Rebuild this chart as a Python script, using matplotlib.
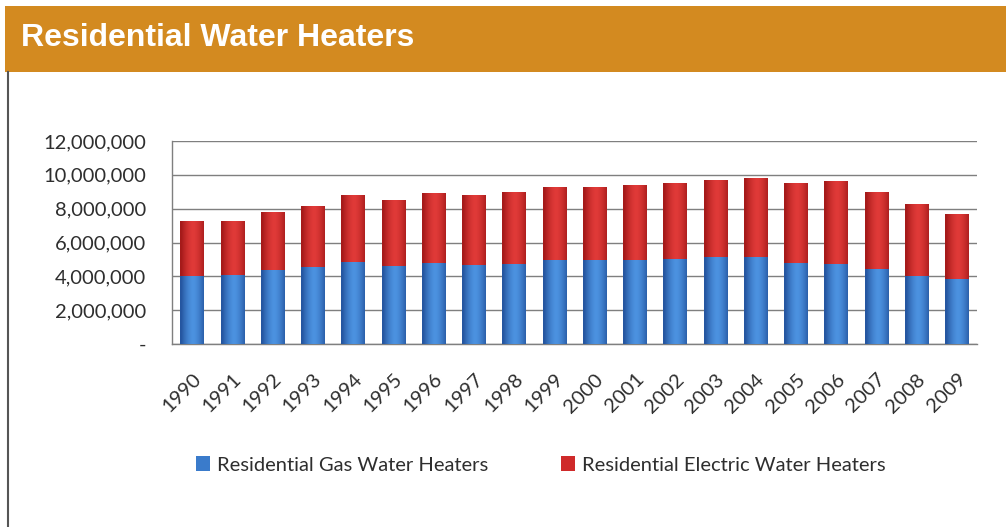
import numpy as np
import matplotlib
matplotlib.use("Agg")
import matplotlib.pyplot as plt
from matplotlib.patches import Rectangle
from matplotlib.lines import Line2D
from matplotlib.ticker import FuncFormatter

years = [str(y) for y in range(1990, 2010)]
gas = [4.00, 4.07, 4.40, 4.56, 4.84, 4.60, 4.76, 4.66, 4.74, 4.94,
       4.94, 4.94, 5.05, 5.15, 5.15, 4.80, 4.74, 4.42, 4.03, 3.85]
total = [7.27, 7.27, 7.78, 8.17, 8.81, 8.49, 8.90, 8.81, 9.00, 9.30,
         9.30, 9.40, 9.50, 9.71, 9.79, 9.52, 9.63, 9.00, 8.27, 7.68]
gas = [g * 1e6 for g in gas]
electric = [t * 1e6 - g for t, g in zip(total, gas)]
series_names = ["Residential Gas Water Heaters", "Residential Electric Water Heaters"]
title = "Residential Water Heaters"

W, H = 1006, 527
fig = plt.figure(figsize=(W / 100, H / 100), dpi=100)
fig.patch.set_facecolor("white")

# header banner
fig.patches.append(Rectangle((5 / W, 1 - 72 / H), 1 - 5 / W, 66 / H,
                             transform=fig.transFigure, facecolor="#D38A20",
                             edgecolor="none", zorder=0))
fig.lines.append(Line2D([7.5 / W, 7.5 / W], [0.0, 1 - 72 / H],
                        transform=fig.transFigure, color="#555555", lw=1.5))
fig.text(21 / W, 1 - 38 / H, title, color="white", fontsize=23,
         fontweight="bold", family=["Liberation Sans", "DejaVu Sans"],
         va="center", ha="left")

ax = fig.add_axes([172 / W, 1 - 344 / H, (977 - 172) / W, (344 - 141) / H])
x = np.arange(len(years))
bw = 0.58
blue_c = "#3A7BCB"
red_c = "#CF2A2A"
b1 = ax.bar(x, gas, width=bw, color=blue_c, zorder=3, label=series_names[0])
b2 = ax.bar(x, electric, bottom=gas, width=bw, color=red_c, zorder=3, label=series_names[1])

# cylinder-like horizontal shading
def shade(bars, dark, light):
    dark = np.array(matplotlib.colors.to_rgb(dark))
    light = np.array(matplotlib.colors.to_rgb(light))
    t = np.linspace(-1, 1, 64)
    w = 1 - np.abs(t - 0.1) ** 1.6
    w = np.clip(w, 0, 1)
    grad = dark[None, :] * (1 - w[:, None]) + light[None, :] * w[:, None]
    img = grad[None, :, :]
    for p in bars:
        x0, y0 = p.get_x(), p.get_y()
        im = ax.imshow(img, extent=[x0, x0 + p.get_width(), y0, y0 + p.get_height()],
                       aspect="auto", zorder=3.5, interpolation="bilinear")
        im.set_clip_path(p)

shade(b1, "#2556A0", "#4C92E0")
shade(b2, "#A51A1A", "#E03A38")

ax.set_xlim(-0.5, len(years) - 0.5)
ax.set_ylim(0, 12e6)
ax.set_yticks(np.arange(0, 12e6 + 1, 2e6))
ax.yaxis.set_major_formatter(FuncFormatter(lambda v, p: "-" if v == 0 else f"{int(v):,}"))
ax.grid(axis="y", color="#7F7F7F", lw=1.0, zorder=0)
ax.set_axisbelow(True)
for s in ["top", "right"]:
    ax.spines[s].set_visible(False)
for s in ["left", "bottom"]:
    ax.spines[s].set_color("#7F7F7F")
    ax.spines[s].set_linewidth(1.0)
ax.set_xticks(x)
ax.set_xticklabels(years, rotation=45, ha="right", rotation_mode="anchor")
ax.tick_params(axis="x", length=0, pad=19, labelsize=14.5, labelcolor="#2E2E2E")
ax.tick_params(axis="y", length=0, pad=18.5, labelsize=14.5, labelcolor="#2E2E2E")
for lab in ax.get_xticklabels() + ax.get_yticklabels():
    lab.set_family(["Lato", "DejaVu Sans"])

handles = [Rectangle((0, 0), 1, 1, facecolor=blue_c), Rectangle((0, 0), 1, 1, facecolor=red_c)]
leg = fig.legend(handles, series_names, loc="center", bbox_to_anchor=(541 / W, 1 - 465 / H),
                 ncol=2, frameon=False, handlelength=0.7, handleheight=0.7,
                 handletextpad=0.35, columnspacing=3.6,
                 prop={"family": ["Lato", "DejaVu Sans"], "size": 14.5})
for t in leg.get_texts():
    t.set_color("#2E2E2E")

fig.savefig("out.png", dpi=100)
